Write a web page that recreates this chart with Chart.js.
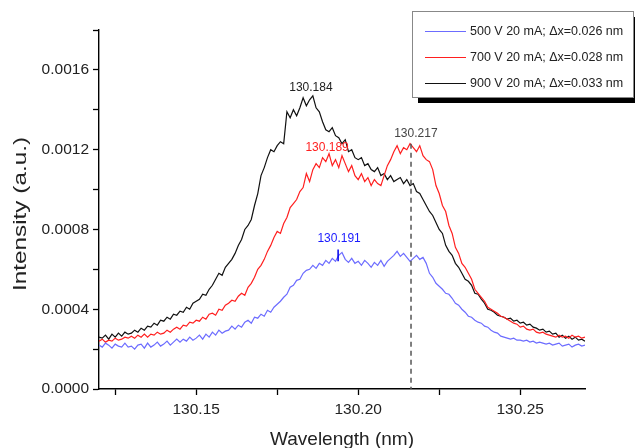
<!DOCTYPE html>
<html>
<head>
<meta charset="utf-8">
<script src="https://cdn.jsdelivr.net/npm/chart.js@4.4.0/dist/chart.umd.min.js"></script>
<style>
  html, body { margin: 0; padding: 0; background: #fff; }
  #wrap { width: 635px; height: 448px; }
</style>
</head>
<body>
<div id="wrap"><canvas id="chartEspectro"></canvas></div>
<script>
// wavelength (nm)
const wavelength = [
  130.120, 130.121, 130.122, 130.123, 130.124, 130.125, 130.126, 130.127, 130.128, 130.129,
  130.130, 130.131, 130.132, 130.133, 130.134, 130.135, 130.136, 130.137, 130.138, 130.139,
  130.140, 130.141, 130.142, 130.143, 130.144, 130.145, 130.146, 130.147, 130.148, 130.149,
  130.150, 130.151, 130.152, 130.153, 130.154, 130.155, 130.156, 130.157, 130.158, 130.159,
  130.160, 130.161, 130.162, 130.163, 130.164, 130.165, 130.166, 130.167, 130.168, 130.169,
  130.170, 130.171, 130.172, 130.173, 130.174, 130.175, 130.176, 130.177, 130.178, 130.179,
  130.180, 130.181, 130.182, 130.183, 130.184, 130.185, 130.186, 130.187, 130.188, 130.189,
  130.190, 130.191, 130.192, 130.193, 130.194, 130.195, 130.196, 130.197, 130.198, 130.199,
  130.200, 130.201, 130.202, 130.203, 130.204, 130.205, 130.206, 130.207, 130.208, 130.209,
  130.210, 130.211, 130.212, 130.213, 130.214, 130.215, 130.216, 130.217, 130.218, 130.219,
  130.220, 130.221, 130.222, 130.223, 130.224, 130.225, 130.226, 130.227, 130.228, 130.229,
  130.230, 130.231, 130.232, 130.233, 130.234, 130.235, 130.236, 130.237, 130.238, 130.239,
  130.240, 130.241, 130.242, 130.243, 130.244, 130.245, 130.246, 130.247, 130.248, 130.249,
  130.250, 130.251, 130.252, 130.253, 130.254, 130.255, 130.256, 130.257, 130.258, 130.259,
  130.260, 130.261, 130.262, 130.263, 130.264, 130.265, 130.266, 130.267, 130.268, 130.269,
  130.270
];

// intensities, in units of 1e-4 a.u.
const int500 = [
  2.2, 2.1, 2.3, 2.2, 2.05, 2.25, 2.15, 2.1, 2.3, 2.1,
  2.15, 2.0, 2.2, 2.25, 2.05, 2.3, 2.1, 2.2, 2.35, 2.15,
  2.25, 2.4, 2.2, 2.35, 2.5, 2.35, 2.5, 2.4, 2.6, 2.45,
  2.55, 2.7, 2.5, 2.75, 2.6, 2.85, 2.7, 2.95, 2.8, 2.9,
  2.95, 3.15, 3.0, 3.2, 3.1, 3.35, 3.45, 3.3, 3.6, 3.55,
  3.75, 3.65, 3.95, 3.85, 4.1, 4.25, 4.4, 4.6, 4.75, 5.1,
  5.2, 5.45, 5.5, 5.8, 5.95, 6.0, 6.2, 6.05, 6.3, 6.2,
  6.45, 6.3, 6.55, 6.4, 6.7, 6.85, 6.5, 6.35, 6.55, 6.3,
  6.4, 6.2, 6.45, 6.3, 6.1, 6.35, 6.2, 6.45, 6.15, 6.4,
  6.55, 6.7, 6.9, 6.65, 6.8, 6.6, 6.4, 6.55, 6.7, 6.5,
  6.6, 6.3, 5.8, 5.6, 5.3, 5.15, 5.0, 4.8, 4.75, 4.55,
  4.3, 4.2, 4.0, 3.85, 3.65, 3.6, 3.45, 3.35, 3.3, 3.15,
  3.1, 2.95, 2.85, 2.8, 2.65, 2.6, 2.55, 2.5, 2.55, 2.45,
  2.45, 2.4, 2.45, 2.35, 2.4, 2.3, 2.35, 2.3, 2.25, 2.3,
  2.2, 2.25, 2.3, 2.15, 2.2, 2.25, 2.1, 2.2, 2.25, 2.15,
  2.2
];
const int700 = [
  2.4, 2.5, 2.35, 2.45, 2.4, 2.55, 2.45, 2.5, 2.6, 2.55,
  2.65, 2.55, 2.7, 2.6, 2.75, 2.6, 2.75, 2.7, 2.85, 2.75,
  2.8, 2.95, 2.85, 3.0, 3.1, 3.0, 3.2, 3.15, 3.35, 3.3,
  3.45, 3.4, 3.6, 3.5, 3.75, 3.8, 3.7, 4.0, 3.95, 4.2,
  4.3, 4.45, 4.4, 4.65, 4.8, 4.7, 5.1, 5.3, 5.6, 6.0,
  6.2, 6.5, 6.9, 7.2, 7.6, 7.9, 7.8, 8.3, 8.6, 9.1,
  9.3, 9.5, 9.9, 10.1, 10.8, 10.4, 11.0, 11.3, 11.1, 11.6,
  11.4, 11.8, 11.2, 11.5, 11.1, 11.7, 11.3, 10.9, 11.2, 10.7,
  10.5, 10.8, 10.4, 10.6, 10.2, 10.5, 10.3, 10.2, 10.7, 11.2,
  11.5, 11.9, 12.2, 11.8, 12.1, 12.0, 12.3, 12.1, 11.9, 12.2,
  11.7, 11.5, 11.4, 11.0, 10.2, 9.8, 9.2, 8.9, 8.2, 7.8,
  7.1, 6.8, 6.3, 6.1, 5.8, 5.5, 5.0, 4.8, 4.6, 4.4,
  4.1, 4.0, 3.9, 3.8, 3.65, 3.6, 3.5, 3.4, 3.3, 3.25,
  3.1, 3.15, 3.0, 2.95, 3.0, 2.85, 2.8, 2.85, 2.75, 2.7,
  2.65, 2.6, 2.7, 2.6, 2.65, 2.55, 2.7, 2.6, 2.65, 2.55,
  2.6
];
const int900 = [
  2.6, 2.55, 2.7, 2.5, 2.75, 2.6, 2.8, 2.65, 2.85, 2.75,
  2.8, 2.95, 2.85, 3.05, 2.95, 3.15, 3.1, 3.3, 3.2, 3.45,
  3.4, 3.6, 3.5, 3.75, 3.7, 3.9, 3.85, 4.1, 4.0, 4.3,
  4.4, 4.5, 4.75, 4.7, 5.0, 5.2, 5.5, 5.8, 5.7, 6.1,
  6.3, 6.5, 6.8, 7.2, 7.5, 8.0, 8.2, 8.5, 9.2, 9.8,
  10.7, 11.1, 11.6, 12.0, 11.9, 12.2, 12.4, 12.3, 13.9, 13.6,
  14.0, 13.7, 14.1, 14.6, 14.2, 14.5, 14.7, 14.1, 13.9, 13.4,
  13.0, 12.9, 13.1, 12.7, 12.6, 12.3, 12.5, 11.9, 12.0, 11.6,
  11.5, 11.6, 11.2, 11.3, 11.0, 10.9, 11.1, 10.7, 10.8, 10.5,
  10.7, 10.4, 10.5, 10.6, 10.3, 10.5, 10.2, 10.3, 9.9, 9.8,
  9.5, 9.2, 8.9, 8.7, 8.35, 8.0, 7.8, 7.2, 6.9, 6.7,
  6.3, 6.1, 5.8, 5.5, 5.4, 5.2, 4.8, 4.75, 4.5, 4.3,
  4.0, 3.95, 3.85, 3.7, 3.65, 3.6, 3.5, 3.55, 3.4, 3.45,
  3.3, 3.35, 3.2, 3.25, 3.1, 3.05, 2.95, 3.0, 2.85, 2.9,
  2.75, 2.8, 2.6, 2.7, 2.55, 2.65, 2.5, 2.6, 2.45, 2.5,
  2.4
];
const unidad = 1e-4;

const seriesLabels = [
  '500 V 20 mA; \u0394x=0.026 nm',
  '700 V 20 mA; \u0394x=0.028 nm',
  '900 V 20 mA; \u0394x=0.033 nm'
];
const seriesColors = ['#6c6cff', '#ff1f1f', '#111111'];

const xTicks = [130.125, 130.15, 130.175, 130.20, 130.225, 130.25];
const yTicks = [0, 0.0002, 0.0004, 0.0006, 0.0008, 0.0010, 0.0012, 0.0014, 0.0016, 0.0018];

// peak labels
const peakNotes = [
  { text: '130.184', x: 130.1854, y: 0.001509, color: '#222' },
  { text: '130.189', x: 130.1904, y: 0.001210, color: '#ff2020' },
  { text: '130.217', x: 130.2178, y: 0.001280, color: '#444' },
  { text: '130.191', x: 130.1941, y: 0.000754, color: '#1a1aff' }
];
const peakLine = { x: 130.2163, yTop: 0.00123 };
const blueMark = { x: 130.1938, y1: 0.00064, y2: 0.00070 };

const FONT = '"Liberation Sans", Arial, sans-serif';

const toPoints = arr => arr.map((v, i) => ({ x: wavelength[i], y: v * unidad }));

const notasPlugin = {
  id: 'notas',
  afterDatasetsDraw(chart) {
    const { ctx, scales: { x, y } } = chart;
    ctx.save();
    // dashed marker
    ctx.strokeStyle = '#555';
    ctx.lineWidth = 1.5;
    ctx.setLineDash([5, 4]);
    ctx.beginPath();
    ctx.moveTo(x.getPixelForValue(peakLine.x), y.getPixelForValue(peakLine.yTop));
    ctx.lineTo(x.getPixelForValue(peakLine.x), y.getPixelForValue(0));
    ctx.stroke();
    ctx.setLineDash([]);
    ctx.strokeStyle = '#0000ee';
    ctx.beginPath();
    ctx.moveTo(x.getPixelForValue(blueMark.x), y.getPixelForValue(blueMark.y1));
    ctx.lineTo(x.getPixelForValue(blueMark.x), y.getPixelForValue(blueMark.y2));
    ctx.stroke();
    // labels
    ctx.font = '12px ' + FONT;
    ctx.textAlign = 'center';
    ctx.textBaseline = 'middle';
    peakNotes.forEach(n => {
      ctx.fillStyle = n.color;
      ctx.fillText(n.text, x.getPixelForValue(n.x), y.getPixelForValue(n.y));
    });
    ctx.restore();
  },
  afterDraw(chart) {
    const { ctx } = chart;
    ctx.save();
    // y title (stretched like the original)
    ctx.translate(21, 214);
    ctx.rotate(-Math.PI / 2);
    ctx.scale(1.28, 1);
    ctx.font = '19px ' + FONT;
    ctx.fillStyle = '#222';
    ctx.textAlign = 'center';
    ctx.textBaseline = 'middle';
    ctx.fillText('Intensity (a.u.)', 0, 0);
    ctx.restore();

    // legend box
    const bx = 412, by = 11, bw = 221, bh = 86;
    ctx.save();
    ctx.fillStyle = '#000';
    ctx.fillRect(bx + 6, by + 6, bw, bh);
    ctx.fillStyle = '#fff';
    ctx.fillRect(bx, by, bw, bh);
    ctx.strokeStyle = '#888';
    ctx.lineWidth = 1;
    ctx.strokeRect(bx + 0.5, by + 0.5, bw, bh);
    ctx.font = '12.5px ' + FONT;
    ctx.textAlign = 'left';
    ctx.textBaseline = 'middle';
    chart.data.datasets.forEach((ds, i) => {
      const yy = by + 20 + i * 26;
      ctx.strokeStyle = ds.borderColor;
      ctx.lineWidth = 1;
      ctx.beginPath();
      ctx.moveTo(bx + 13, yy + 0.5);
      ctx.lineTo(bx + 54, yy + 0.5);
      ctx.stroke();
      ctx.fillStyle = '#222';
      ctx.fillText(ds.label, bx + 58, yy + 1);
    });
    ctx.restore();
  }
};

const ctx = document.getElementById('chartEspectro').getContext('2d');
new Chart(ctx, {
  type: 'line',
  data: {
    datasets: [int500, int700, int900].map((arr, i) => ({
      label: seriesLabels[i],
      data: toPoints(arr),
      borderColor: seriesColors[i],
      borderWidth: 1.2,
      pointRadius: 0,
      tension: 0,
      fill: false
    }))
  },
  options: {
    responsive: true,
    maintainAspectRatio: false,
    animation: false,
    devicePixelRatio: 1,
    layout: { padding: { top: 30, right: 50, left: 0, bottom: 0 } },
    plugins: { legend: { display: false }, tooltip: { enabled: false } },
    scales: {
      x: {
        type: 'linear',
        min: 130.12,
        max: 130.27,
        afterBuildTicks: axis => { axis.ticks = xTicks.map(v => ({ value: v })); },
        afterFit: axis => { axis.height = 59; },
        border: { color: '#000', width: 1.4 },
        grid: { drawOnChartArea: false, drawTicks: true, tickLength: 6, tickColor: '#000', tickWidth: 1.3 },
        ticks: {
          color: '#222',
          padding: 5,
          maxRotation: 0,
          autoSkip: false,
          font: { family: FONT, size: 15.5 },
          callback: v => (Math.abs(v * 20 - Math.round(v * 20)) < 1e-6 ? v.toFixed(2) : '')
        },
        title: {
          display: true,
          text: 'Wavelength (nm)',
          color: '#222',
          font: { family: FONT, size: 19 },
          padding: { top: 0, bottom: -3 }
        }
      },
      y: {
        min: 0,
        max: 0.0018,
        afterBuildTicks: axis => { axis.ticks = yTicks.map(v => ({ value: v })); },
        afterFit: axis => { axis.width = 99; },
        border: { color: '#000', width: 1.4 },
        grid: { drawOnChartArea: false, drawTicks: true, tickLength: 6, tickColor: '#000', tickWidth: 1.3 },
        ticks: {
          color: '#222',
          padding: 4,
          autoSkip: false,
          font: { family: FONT, size: 15.5 },
          callback: v => (Math.round(v / 0.0002) % 2 === 0 && v < 0.0017 ? v.toFixed(4) : '')
        }
      }
    }
  },
  plugins: [notasPlugin]
});
</script>
</body>
</html>
